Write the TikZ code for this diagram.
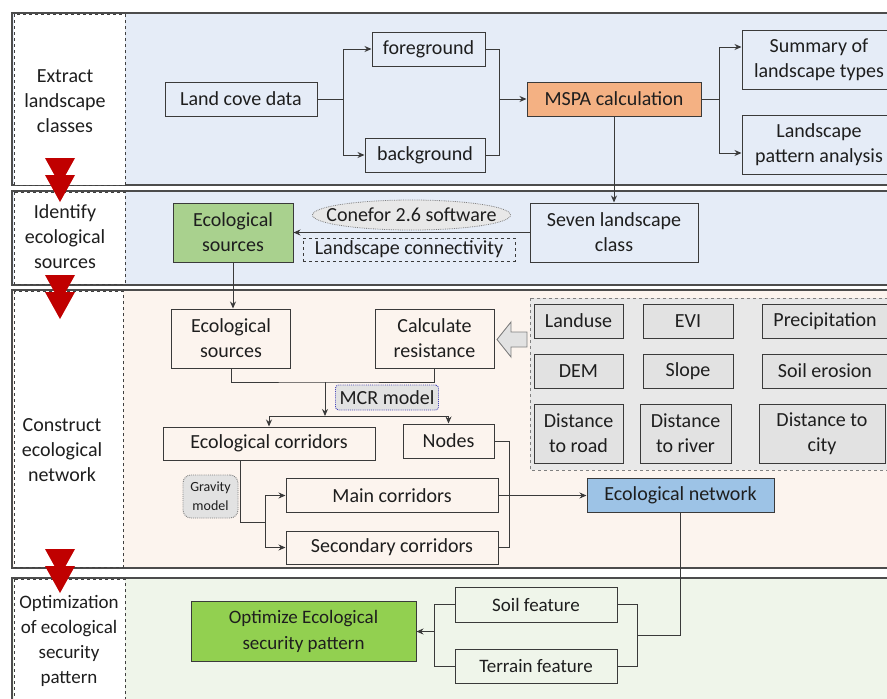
\documentclass[tikz,border=0pt]{standalone}
\usepackage{fontspec}
\setmainfont{Carlito}
\usetikzlibrary{arrows.meta,shapes.geometric,calc}
\definecolor{bandblue}{HTML}{E5ECF7}
\definecolor{bandpeach}{HTML}{FCF4EE}
\definecolor{bandgreen}{HTML}{EFF5EA}
\definecolor{mspac}{HTML}{F4B183}
\definecolor{srcgreen}{HTML}{A9D18E}
\definecolor{optgreen}{HTML}{92D050}
\definecolor{netblue}{HTML}{9DC3E6}
\definecolor{lgray}{HTML}{E8E8E8}
\definecolor{bgray}{HTML}{E2E2E2}
\definecolor{darkred}{HTML}{C00000}
\definecolor{linec}{HTML}{3A3A3A}
\definecolor{txtc}{HTML}{1E1E1E}
\tikzset{
  box/.style={draw=linec, line width=1pt, align=center, inner sep=0pt,
    font=\fontsize{20}{25}\selectfont, text=txtc},
  fbox/.style={box, fill=bgray},
  bandrect/.style={draw=black!70, line width=1.2pt},
  labrect/.style={draw=black!75, dashed, line width=0.9pt, fill=white},
  labtext/.style={align=center, inner sep=0pt, font=\fontsize{20}{25}\selectfont, text=txtc},
  conn/.style={draw=linec, line width=1pt},
  arr/.style={conn, -{Stealth[length=7pt,width=6pt]}},
}
\begin{document}
\begin{tikzpicture}[x=1pt,y=-1pt]
\useasboundingbox (0,0) rectangle (887,699);
\clip (0,0) rectangle (887,699);
\fill[white] (0,0) rectangle (887,699);
% bands
\draw[bandrect, fill=bandblue] (12,13) rectangle (900,185);
\draw[bandrect, fill=bandblue] (12,191) rectangle (900,285);
\draw[bandrect, fill=bandpeach] (12,290) rectangle (900,568);
\draw[bandrect, fill=bandgreen] (12,578) rectangle (900,710);
% label boxes
\draw[labrect] (14,14) rectangle (125,185);
\draw[labrect] (14,192) rectangle (125,284);
\draw[labrect] (14,291) rectangle (123,567);
\draw[labrect] (14,579) rectangle (125,710);
\node[labtext] (t1) at (65,101) {Extract\\landscape\\classes};
\node[labtext] (t2) at (65,237) {Identify\\ecological\\sources};
\node[labtext] (t3) at (62,450) {Construct\\ecological\\network};
\node[labtext, font=\fontsize{19}{25}\selectfont] (t4) at (69,640.5) {Optimization\\of ecological\\security\\pattern};
% red arrows
\foreach \y in {158,275,549} {
  \fill[darkred] (45,\y) -- (75,\y) -- (60,\y+27) -- cycle;
  \fill[darkred] (45,\y+17) -- (75,\y+17) -- (60,\y+44) -- cycle;
}
% band 1
\node[box, minimum width=152, minimum height=34] (land) at (241,99) {Land cove data};
\node[box, minimum width=113, minimum height=34] (fg) at (428.5,49) {foreground};
\node[box, minimum width=120, minimum height=34] (bg) at (425,155) {background};
\node[box, fill=mspac, minimum width=174, minimum height=34] (mspa) at (614,99) {MSPA calculation};
\node[box, minimum width=154, minimum height=59] (sum) at (819,59.5) {Summary of\\landscape types};
\node[box, minimum width=154, minimum height=59] (lpa) at (819,144.5) {Landscape\\pattern analysis};
\coordinate (j1) at (343,99);
\coordinate (j2) at (499,99);
\coordinate (j3) at (719,99);
\draw[conn] (land.east) -- (j1);
\draw[arr] (j1) |- (fg.west);
\draw[arr] (j1) |- (bg.west);
\draw[conn] (fg.east) -| (j2);
\draw[conn] (bg.east) -| (j2);
\draw[arr] (j2) -- (mspa.west);
\draw[conn] (mspa.east) -- (j3);
\draw[arr] (j3) |- ([yshift=12.5pt]sum.west);
\draw[arr] (j3) |- ([yshift=-8.5pt]lpa.west);
% band 2
\node[box, fill=srcgreen, minimum width=120, minimum height=59] (src1) at (233,232.5) {Ecological\\sources};
\node[box, minimum width=168, minimum height=59] (seven) at (614,232.5) {Seven landscape\\class};
\node[ellipse, draw=gray, densely dotted, line width=0.8pt, fill=lgray, inner xsep=-15pt, inner ysep=0pt, minimum height=30, font=\fontsize{20}{25}\selectfont, text=txtc] (conefor) at (411.5,215) {Conefor 2.6 software};
\node[box, dashed, line width=0.8pt, minimum width=212, minimum height=23] (lcon) at (409,249.5) {Landscape connectivity};
\draw[arr] (mspa.south) -- (seven.north);
\draw[arr] (seven.west) -- (src1.east);
% band 3
\node[box, minimum width=119, minimum height=59] (src2) at (231,338.5) {Ecological\\sources};
\node[box, minimum width=119, minimum height=59] (calc) at (434.5,338.5) {Calculate\\resistance};
\draw[arr] (src1.south) -- (src1.south |- src2.north);
\coordinate (m1) at (325,382);
\coordinate (m2) at (325,416);
\draw[conn] (src2.south) |- (m1) -| (calc.south);
\draw[arr] (m1) -- (m2);
\node[draw=blue!45!gray, densely dotted, line width=0.9pt, rounded corners=3pt, fill=bgray, minimum width=103, minimum height=25, inner sep=0pt, font=\fontsize{20}{25}\selectfont, text=txtc] (mcr) at (387,397.5) {MCR model};
\node[box, minimum width=212, minimum height=33] (eco) at (269,443.5) {Ecological corridors};
\node[box, minimum width=91, minimum height=34] (nodes) at (448.5,441) {Nodes};
\draw[arr] (m2) -| (eco.north);
\draw[arr] (m2) -| (nodes.north);
\node[draw=gray, densely dotted, line width=0.9pt, rounded corners=8pt, fill=bgray, minimum width=55, minimum height=43, inner sep=0pt, align=center, font=\fontsize{14}{19}\selectfont, text=txtc] (grav) at (210.5,496.5) {Gravity\\model};
\node[box, minimum width=212, minimum height=34] (main) at (392,495.5) {Main corridors};
\node[box, minimum width=212, minimum height=33] (sec) at (392,547.5) {Secondary corridors};
\coordinate (g1) at (265,522);
\draw[conn] ([xshift=-29pt]eco.south) |- (g1);
\draw[arr] (g1) |- (main.west);
\draw[arr] (g1) |- (sec.west);
\coordinate (n1) at (509,441);
\draw[conn] (nodes.east) -- (n1) |- (sec.east);
% factors
\draw[draw=gray, dashed, line width=0.9pt, fill=lgray] (530,298) rectangle (900,470);
\draw[draw=gray, line width=0.9pt, fill=bgray] (527,332) -- (511,332) -- (511,322) -- (497,339.5) -- (511,357) -- (511,347) -- (527,347) -- cycle;
\node[fbox, minimum width=89, minimum height=34] (landuse) at (578.5,321) {Landuse};
\node[fbox, minimum width=90, minimum height=34] (evi) at (688,321) {EVI};
\node[fbox, minimum width=126, minimum height=34] (prec) at (825,321) {Precipitation};
\node[fbox, minimum width=89, minimum height=34] (dem) at (578.5,371) {DEM};
\node[fbox, minimum width=90, minimum height=34] (slope) at (688,371) {Slope};
\node[fbox, minimum width=126, minimum height=34] (soile) at (825,371) {Soil erosion};
\node[fbox, minimum width=89, minimum height=59] (droad) at (578.5,433.5) {Distance\\to road};
\node[fbox, minimum width=91, minimum height=59] (driver) at (685.5,433.5) {Distance\\to river};
\node[fbox, minimum width=126, minimum height=59] (dcity) at (822,433.5) {Distance to\\city};
\node[box, fill=netblue, minimum width=187, minimum height=34] (net) at (680.5,495.5) {Ecological network};
\draw[arr] (main.east) -- (net.west);
% band 4
\node[box, fill=optgreen, minimum width=225, minimum height=60, font=\fontsize{19}{26}\selectfont] (opt) at (303.5,631.5) {Optimize Ecological\\security pattern};
\node[box, minimum width=162, minimum height=35, font=\fontsize{19}{25}\selectfont] (soilf) at (536,604.5) {Soil feature};
\node[box, minimum width=162, minimum height=34, font=\fontsize{19}{25}\selectfont] (terrf) at (536,666) {Terrain feature};
\coordinate (e1) at (680.5,635);
\coordinate (e2) at (637,635);
\draw[conn] (net.south) -- (e1) -- (e2);
\draw[conn] (soilf.east) -| (e2);
\draw[conn] (terrf.east) -| (e2);
\coordinate (o1) at (434,631.5);
\draw[conn] (soilf.west) -| (o1);
\draw[conn] (terrf.west) -| (o1);
\draw[arr] (o1) -- (o1 -| opt.east);
\end{tikzpicture}
\end{document}
